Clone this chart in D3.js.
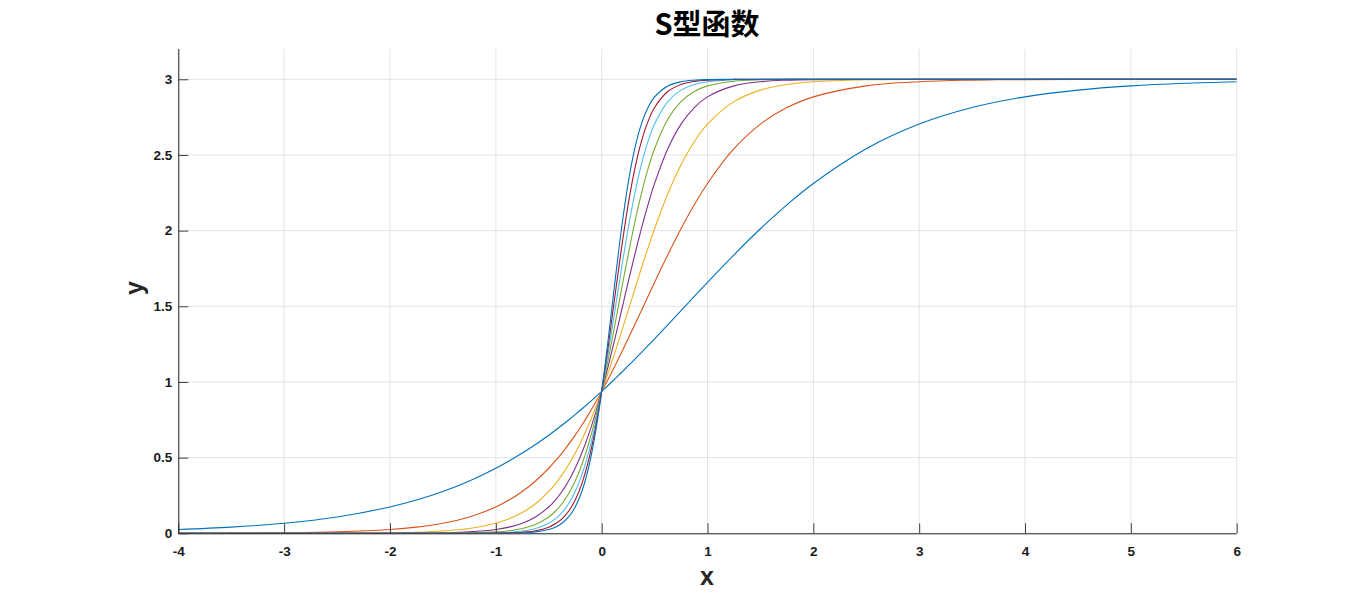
<!DOCTYPE html>
<html><head><meta charset="utf-8">
<script src="https://cdn.jsdelivr.net/npm/d3@7"></script>
<style>html,body{margin:0;padding:0;background:#fff;}</style>
</head><body>
<svg id="c" width="1366" height="600"></svg>
<script>
const titleText = "S型函数";
const xLabel = "x";
const yLabel = "y";
const xTicks = [-4,-3,-2,-1,0,1,2,3,4,5,6];
const yTicks = [0,0.5,1,1.5,2,2.5,3];
const xs = [-4,-3.5,-3,-2.5,-2,-1.75,-1.5,-1.25,-1,-0.875,-0.75,-0.625,-0.5,-0.4375,-0.375,-0.3125,-0.25,-0.1875,-0.125,-0.0625,0,0.0625,0.125,0.1875,0.25,0.3125,0.375,0.4375,0.5,0.625,0.75,0.875,1,1.25,1.5,1.75,2,2.5,3,3.5,4,4.5,5,5.5,6];
const s1 = [0.0248,0.0406,0.0664,0.1079,0.1739,0.2196,0.2763,0.3457,0.4298,0.4779,0.5303,0.5871,0.6483,0.6807,0.7141,0.7487,0.7843,0.8211,0.8589,0.8977,0.9375,0.9783,1.0199,1.0624,1.1056,1.1496,1.1943,1.2395,1.2851,1.3777,1.4712,1.5649,1.6581,1.8401,2.0122,2.1703,2.3117,2.5411,2.7039,2.8131,2.8838,2.9284,2.9562,2.9733,2.9837];
const s2 = [0.0005,0.0012,0.0034,0.0092,0.0248,0.0406,0.0664,0.1079,0.1739,0.2196,0.2763,0.3457,0.4298,0.4779,0.5303,0.5871,0.6483,0.7141,0.7843,0.8589,0.9375,1.0199,1.1056,1.1943,1.2851,1.3777,1.4712,1.5649,1.6581,1.8401,2.0122,2.1703,2.3117,2.5411,2.7039,2.8131,2.8838,2.9562,2.9837,2.9940,2.9978,2.9992,2.9997,2.9999,3.0000];
const s3 = [0.0000,0.0000,0.0002,0.0008,0.0034,0.0071,0.0151,0.0317,0.0664,0.0956,0.1372,0.1955,0.2763,0.3270,0.3858,0.4533,0.5303,0.6171,0.7141,0.8211,0.9375,1.0624,1.1943,1.3313,1.4712,1.6116,1.7501,1.8843,2.0122,2.2432,2.4353,2.5876,2.7039,2.8524,2.9284,2.9658,2.9837,2.9964,2.9992,2.9998,3.0000,3.0000,3.0000,3.0000,3.0000];
const s4 = [0.0000,0.0000,0.0000,0.0001,0.0005,0.0012,0.0034,0.0092,0.0248,0.0406,0.0664,0.1079,0.1739,0.2196,0.2763,0.3457,0.4298,0.5303,0.6483,0.7843,0.9375,1.1056,1.2851,1.4712,1.6581,1.8401,2.0122,2.1703,2.3117,2.5411,2.7039,2.8131,2.8838,2.9562,2.9837,2.9940,2.9978,2.9997,3.0000,3.0000,3.0000,3.0000,3.0000,3.0000,3.0000];
const s5 = [0.0000,0.0000,0.0000,0.0000,0.0001,0.0002,0.0008,0.0026,0.0092,0.0171,0.0317,0.0587,0.1079,0.1456,0.1955,0.2610,0.3457,0.4533,0.5871,0.7487,0.9375,1.1496,1.3777,1.6116,1.8401,2.0532,2.2432,2.4061,2.5411,2.7356,2.8524,2.9192,2.9562,2.9873,2.9964,2.9990,2.9997,3.0000,3.0000,3.0000,3.0000,3.0000,3.0000,3.0000,3.0000];
const s6 = [0.0000,0.0000,0.0000,0.0000,0.0000,0.0000,0.0002,0.0008,0.0034,0.0071,0.0151,0.0317,0.0664,0.0956,0.1372,0.1955,0.2763,0.3858,0.5303,0.7141,0.9375,1.1943,1.4712,1.7501,2.0122,2.2432,2.4353,2.5876,2.7039,2.8524,2.9284,2.9658,2.9837,2.9964,2.9992,2.9998,3.0000,3.0000,3.0000,3.0000,3.0000,3.0000,3.0000,3.0000,3.0000];
const s7 = [0.0000,0.0000,0.0000,0.0000,0.0000,0.0000,0.0000,0.0002,0.0012,0.0030,0.0071,0.0171,0.0406,0.0625,0.0956,0.1456,0.2196,0.3270,0.4779,0.6807,0.9375,1.2395,1.5649,1.8843,2.1703,2.4061,2.5876,2.7201,2.8131,2.9192,2.9658,2.9856,2.9940,2.9990,2.9998,3.0000,3.0000,3.0000,3.0000,3.0000,3.0000,3.0000,3.0000,3.0000,3.0000];
const s8 = [0.0000,0.0000,0.0000,0.0000,0.0000,0.0000,0.0000,0.0001,0.0005,0.0012,0.0034,0.0092,0.0248,0.0406,0.0664,0.1079,0.1739,0.2763,0.4298,0.6483,0.9375,1.2851,1.6581,2.0122,2.3117,2.5411,2.7039,2.8131,2.8838,2.9562,2.9837,2.9940,2.9978,2.9997,3.0000,3.0000,3.0000,3.0000,3.0000,3.0000,3.0000,3.0000,3.0000,3.0000,3.0000];
const seriesList = [s1,s2,s3,s4,s5,s6,s7,s8];
const colors = ["#0072BD","#D95319","#EDB120","#7E2F8E","#77AC30","#4DBEEE","#A2142F","#0072BD"];

const svg = d3.select("#c");
svg.append("rect").attr("width",1366).attr("height",600).attr("fill","#fff");
const L = 178.3, R = 1236.7, T = 49, B = 533.3;
const x = d3.scaleLinear().domain([-4,6]).range([L,R]);
const y = d3.scaleLinear().domain([0,3.2]).range([B,T]);

// grid
const g = svg.append("g");
g.selectAll(".gx").data(xTicks).enter().append("line")
  .attr("x1",d=>x(d)).attr("x2",d=>x(d)).attr("y1",T).attr("y2",B)
  .attr("stroke","#e3e3e3").attr("stroke-width",1);
g.selectAll(".gy").data(yTicks).enter().append("line")
  .attr("x1",L).attr("x2",R).attr("y1",d=>y(d)).attr("y2",d=>y(d))
  .attr("stroke","#e3e3e3").attr("stroke-width",1);

// lines
svg.append("defs").append("clipPath").attr("id","clip").append("rect")
  .attr("x",L).attr("y",T).attr("width",R-L).attr("height",B-T);
const line = d3.line().x((d,i)=>x(xs[i])).y(d=>y(d)).curve(d3.curveCatmullRom.alpha(0.5));
const lg = svg.append("g").attr("clip-path","url(#clip)");
seriesList.forEach((s,i)=>{
  lg.append("path").attr("d",line(s)).attr("fill","none")
    .attr("stroke",colors[i]).attr("stroke-width",1.1);
});

// axes
const tickFont = "bold 13.5px 'Liberation Sans', Arial, sans-serif";
const fmt = d => String(d);
const xa = svg.append("g").attr("transform",`translate(0,${B})`)
  .call(d3.axisBottom(x).tickValues(xTicks).tickSize(-10).tickSizeOuter(0).tickPadding(13).tickFormat(fmt));
const ya = svg.append("g").attr("transform",`translate(${L},0)`)
  .call(d3.axisLeft(y).tickValues(yTicks).tickSize(-10).tickSizeOuter(0).tickPadding(6).tickFormat(fmt));
[xa,ya].forEach(a=>{
  a.select(".domain").attr("stroke","#262626").attr("stroke-width",1);
  a.selectAll(".tick line").attr("stroke","#404040");
  a.selectAll("text").attr("fill","#1a1a1a").style("font",tickFont);
});
ya.select(".domain").attr("d",`M0.5,${T}V${B}`);
xa.select(".domain").attr("d",`M${L},0.5H${R}`);

// labels
svg.append("text").attr("x",707).attr("y",35).attr("text-anchor","middle")
  .style("font","bold 29px 'Noto Sans CJK SC', sans-serif").attr("fill","#000").text(titleText);
svg.append("text").attr("x",707).attr("y",585).attr("text-anchor","middle")
  .style("font","bold 25px 'Liberation Sans', Arial, sans-serif").attr("fill","#262626").text(xLabel);
svg.append("text").attr("transform","translate(143,288) rotate(-90)").attr("text-anchor","middle")
  .style("font","bold 25px 'Liberation Sans', Arial, sans-serif").attr("fill","#262626").text(yLabel);
</script>
</body></html>
